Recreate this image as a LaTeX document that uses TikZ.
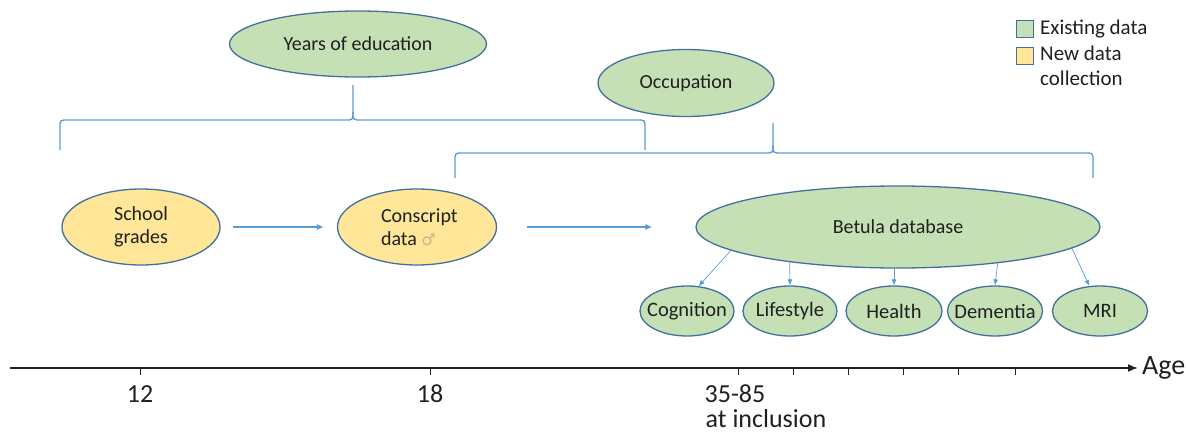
\documentclass[tikz,border=0pt]{standalone}
\usepackage{fontspec}
\setmainfont{Carlito}
\newfontfamily\djv{DejaVu Sans}
\usetikzlibrary{shapes.geometric,arrows.meta}
\definecolor{gfill}{HTML}{C5E0B4}
\definecolor{yfill}{HTML}{FFE699}
\definecolor{edgec}{HTML}{41719C}
\definecolor{lblue}{HTML}{5B9BD5}
\definecolor{txt}{HTML}{202020}
\newcommand{\zb}[1]{\makebox[0pt]{#1}}
\newcommand{\zl}[1]{\makebox[0pt][l]{\hspace{-36pt}#1}}
\begin{document}
\begin{tikzpicture}[x=1pt,y=-1pt,
  oval/.style={ellipse, draw=edgec, line width=1.3pt, inner sep=0pt, align=center,
    text=txt, font=\fontsize{20}{23}\selectfont},
  gov/.style={oval, fill=gfill},
  yov/.style={oval, fill=yfill},
  smov/.style={gov, font=\fontsize{20.5}{24}\selectfont, minimum height=50pt},
  bracepath/.style={draw=lblue, line width=1.3pt},
  arr/.style={draw=lblue, line width=1.3pt, -{Latex[length=7pt,width=6pt]}},
  thinarr/.style={draw=lblue, line width=0.7pt, -{Latex[length=6pt,width=5pt]}},
  legbox/.style={draw=edgec, line width=0.9pt, minimum width=17pt, minimum height=17pt, inner sep=0pt},
  legtxt/.style={anchor=west, align=left, inner sep=0pt, text=txt, font=\fontsize{21}{25}\selectfont},
  axlbl/.style={inner sep=0pt, text=txt, font=\fontsize{26}{30}\selectfont}
]
\useasboundingbox (0,0) rectangle (1186,434);

% top ellipses
\node[gov, minimum width=257pt, minimum height=66pt] (yoe) at (358,44) {\zb{Years of education}};
\node[gov, minimum width=176pt, minimum height=67pt] (occ) at (686,83) {\zb{Occupation}};

% braces
\coordinate (b1tip) at (353,85);
\draw[bracepath] (60,150) -- (60,128) .. controls (60,120) .. (68,120) -- (345,120)
  .. controls (353,120) .. (353,112) -- (b1tip);
\draw[bracepath] (353,112) .. controls (353,120) .. (361,120) -- (637,120)
  .. controls (645,120) .. (645,128) -- (645,150);
\coordinate (b2tip) at (773,123);
\draw[bracepath] (455,178) -- (455,161) .. controls (455,153) .. (463,153) -- (765,153)
  .. controls (773,153) .. (773,145) -- (b2tip);
\draw[bracepath] (773,145) .. controls (773,153) .. (781,153) -- (1085,153)
  .. controls (1093,153) .. (1093,161) -- (1093,178);

% legend
\node[legbox, fill=gfill] (lg) at (1025,29) {};
\node[legbox, fill=yfill] (ly) at (1025,56) {};
\node[legtxt] (lgt) at (1040,29) {Existing data};
\node[legtxt, anchor=north west] (lyt) at (1040,46) {New data\\collection};

% middle row
\node[yov, minimum width=158pt, minimum height=76pt] (sg) at (141,227) {\zb{School}\\\zb{grades}};
\node[yov, minimum width=159pt, minimum height=76pt] (cd) at (417,227)
  {\zl{Conscript}\\\zl{data {\djv\fontsize{16}{18}\selectfont\color{yfill!55!gray}♂}}};
\node[gov, minimum width=404pt, minimum height=82pt] (bet) at (898,227) {\zb{Betula database}};

\draw[arr, shorten <=12pt, shorten >=13pt] (sg) -- (cd);
\draw[arr, shorten <=30pt, shorten >=43pt] (cd) -- (bet);

% bottom ellipses
\node[smov, minimum width=94pt] (cog) at (687,311) {\zb{Cognition}};
\node[smov, minimum width=94pt] (lif) at (790,311) {\zb{Lifestyle}};
\node[smov, minimum width=96pt] (hea) at (894,311) {\zb{Health}};
\node[smov, minimum width=95pt] (dem) at (995,311) {\zb{Dementia}};
\node[smov, minimum width=95pt] (mri) at (1100,311) {\zb{MRI}};

\draw[thinarr] (bet.188) -- (cog.65);
\draw[thinarr] (bet.198) -- (lif.north);
\draw[thinarr] (bet.south -| hea.north) -- (hea.north);
\draw[thinarr] (bet.340) -- (dem.north);
\draw[thinarr] (bet.353.5) -- (mri.113);

% axis
\coordinate (ax0) at (10,368);
\coordinate (ax1) at (1138,368);
\draw[line width=1.7pt, draw=txt, -{Latex[length=10pt,width=8pt]}] (ax0) -- (ax1);
\node[anchor=west, inner sep=0pt, text=txt, font=\fontsize{28}{32}\selectfont] (age) at (1142,368) {Age};
\foreach \x in {140,430,738,793,848,903,958,1015}
  \draw[line width=1pt, draw=txt] (\x,368) -- (\x,375);
\node[axlbl] (l12) at (140,394) {12};
\node[axlbl] (l18) at (430,394) {18};
\node[axlbl] (l35) at (735,394) {35-85};
\node[axlbl] (lin) at (766,419) {at inclusion};
\end{tikzpicture}
\end{document}
